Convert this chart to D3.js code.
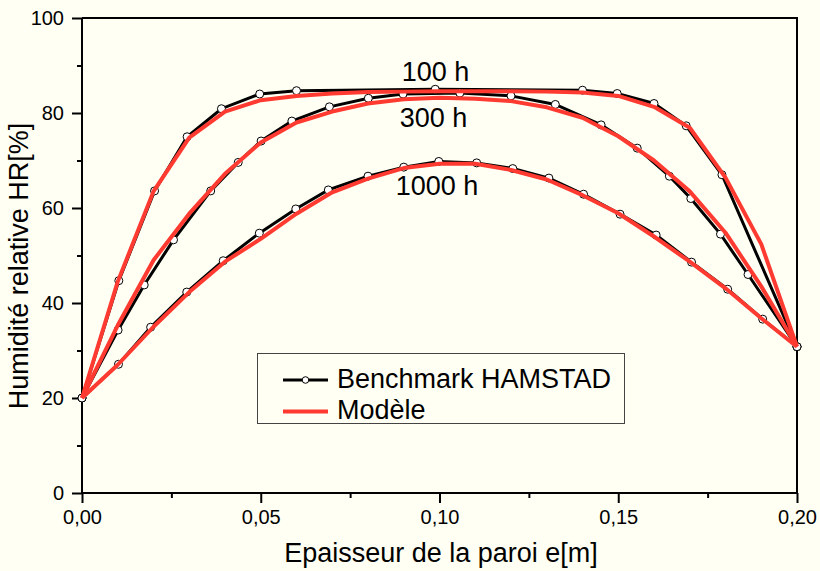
<!DOCTYPE html>
<html><head><meta charset="utf-8">
<script src="https://cdn.jsdelivr.net/npm/d3@7"></script>
<style>
html,body{margin:0;padding:0;background:#fffff3;}
svg{display:block;font-family:"Liberation Sans",Arial,Helvetica,sans-serif;}
</style></head><body>
<svg id="chart" width="820" height="571"></svg>
<script>
// Benchmark HAMSTAD (markers)
const bench100X = [0,0.0103,0.0203,0.0294,0.039,0.0497,0.06,0.0988,0.14,0.1497,0.16,0.169,0.179,0.2];
const bench100Y = [20,44.7,63.6,75.0,80.9,84.0,84.7,85.0,84.8,84.1,82.0,77.3,67.0,30.8];
const bench300X = [0,0.0101,0.0174,0.0256,0.036,0.0437,0.0501,0.0587,0.0692,0.0801,0.0898,0.1057,0.12,0.1324,0.1452,0.1553,0.1643,0.1703,0.1786,0.1863,0.2];
const bench300Y = [20,34.3,43.8,53.3,63.6,69.6,74.1,78.3,81.3,83.1,84.0,84.2,83.6,81.8,77.5,72.6,66.7,62.0,54.5,46.0,30.8];
const bench1000X = [0,0.0102,0.0192,0.0293,0.0395,0.0496,0.0598,0.0689,0.08,0.09,0.0998,0.1104,0.1205,0.1306,0.1403,0.1505,0.1606,0.1705,0.1806,0.1904,0.2];
const bench1000Y = [20,27.1,34.9,42.3,48.9,54.7,59.8,63.8,66.7,68.6,69.8,69.5,68.3,66.3,62.9,58.7,54.3,48.6,42.9,36.6,30.8];
// Modèle (red lines)
const modelX = [0,0.01,0.02,0.03,0.04,0.05,0.06,0.07,0.08,0.09,0.10,0.11,0.12,0.13,0.14,0.15,0.16,0.17,0.18,0.19,0.20];
const model100Y = [20,44.5,63.5,74.8,80.3,82.7,83.6,84.1,84.4,84.5,84.6,84.6,84.6,84.5,84.3,83.6,81.3,76.9,66.4,52.4,30.8];
const model300Y = [20,35.3,49.0,58.8,67.2,73.8,78.0,80.3,82.0,82.9,83.2,83.0,82.5,81.2,79.0,75.1,70.0,63.5,54.8,43.5,30.8];
const model1000Y = [20,27.0,35.0,42.3,48.7,53.5,58.8,63.3,66.2,68.4,69.3,69.3,68.0,66.0,62.7,58.9,54.0,48.7,43.1,36.8,30.8];
// axes
const xTicks = [0,0.05,0.10,0.15,0.20];
const xMinor = [0.025,0.075,0.125,0.175];
const yTicks = [0,20,40,60,80,100];
const yMinor = [10,30,50,70,90];
const curveLabels = [{t:"100 h",x:0.0989,y:86.74},{t:"300 h",x:0.0983,y:77.05},{t:"1000 h",x:0.0993,y:62.74}];

const svg = d3.select("#chart");
const mL=82, mR=797, mT=18, mB=493;
const x = d3.scaleLinear().domain([0,0.2]).range([mL,mR]);
const y = d3.scaleLinear().domain([0,100]).range([mB,mT]);
const fmt = d => d3.format(".2f")(d).replace(".", ",");

// frame (top/right)
svg.append("path").attr("d",`M${mL},${mT}H${mR}V${mB}`).attr("fill","none").attr("stroke","#000").attr("stroke-width",2);

// x axis
const gx = svg.append("g").attr("transform",`translate(0,${mB})`)
  .call(d3.axisBottom(x).tickValues(xTicks).tickSize(10).tickPadding(7).tickFormat(fmt));
svg.append("g").attr("transform",`translate(0,${mB})`)
  .call(d3.axisBottom(x).tickValues(xMinor).tickSize(5).tickFormat(""))
  .call(g=>g.select(".domain").remove());
// y axis
const gy = svg.append("g").attr("transform",`translate(${mL},0)`)
  .call(d3.axisLeft(y).tickValues(yTicks).tickSize(10).tickPadding(8));
svg.append("g").attr("transform",`translate(${mL},0)`)
  .call(d3.axisLeft(y).tickValues(yMinor).tickSize(5).tickFormat(""))
  .call(g=>g.select(".domain").remove());
svg.selectAll(".domain").attr("stroke","#000").attr("stroke-width",2);
svg.selectAll(".tick line").attr("stroke","#000").attr("stroke-width",2);
svg.selectAll(".tick text").attr("font-size",20).attr("fill","#000").attr("font-family",'"Liberation Sans",Arial,sans-serif');
gx.selectAll(".domain").attr("d",`M${mL},0H${mR}`);
gy.selectAll(".domain").attr("d",`M0,${mB}V${mT}`);

// axis titles
svg.append("text").attr("x",441).attr("y",562).attr("text-anchor","middle")
  .attr("font-size",27).text("Epaisseur de la paroi e[m]");
svg.append("text").attr("transform",`translate(28,266) rotate(-90)`).attr("text-anchor","middle")
  .attr("font-size",27).text("Humidité relative HR[%]");

const line = d3.line().x(d=>x(d[0])).y(d=>y(d[1]));
const benches = [[bench100X,bench100Y],[bench300X,bench300Y],[bench1000X,bench1000Y]];
const models = [model100Y,model300Y,model1000Y];

benches.forEach(([bx,by])=>{
  const pts = bx.map((v,i)=>[v,by[i]]);
  svg.append("path").datum(pts).attr("d",line).attr("fill","none").attr("stroke","#000").attr("stroke-width",3);
});
benches.forEach(([bx,by])=>{
  const pts = bx.map((v,i)=>[v,by[i]]);
  svg.append("g").selectAll("circle").data(pts).join("circle")
    .attr("cx",d=>x(d[0])).attr("cy",d=>y(d[1])).attr("r",4)
    .attr("fill","#fff").attr("stroke","#000").attr("stroke-width",1);
});
models.forEach(my=>{
  const pts = modelX.map((v,i)=>[v,my[i]]);
  svg.append("path").datum(pts).attr("d",line).attr("fill","none").attr("stroke","#ff3a30").attr("stroke-width",4).attr("stroke-linejoin","round");
});

// curve labels
curveLabels.forEach(c=>{
  svg.append("text").attr("x",x(c.x)).attr("y",y(c.y)).attr("text-anchor","middle").attr("font-size",27).text(c.t);
});

// legend
const lg = svg.append("g");
lg.append("rect").attr("x",257.5).attr("y",353.5).attr("width",367).attr("height",70).attr("fill","none").attr("stroke","#444").attr("stroke-width",1);
lg.append("line").attr("x1",283).attr("x2",328).attr("y1",380).attr("y2",380).attr("stroke","#000").attr("stroke-width",3);
lg.append("circle").attr("cx",305.5).attr("cy",380).attr("r",3.3).attr("fill","#fff").attr("stroke","#000").attr("stroke-width",1);
lg.append("text").attr("x",337).attr("y",388).attr("font-size",27).text("Benchmark HAMSTAD");
lg.append("line").attr("x1",283).attr("x2",328).attr("y1",411.5).attr("y2",411.5).attr("stroke","#ff3a30").attr("stroke-width",4);
lg.append("text").attr("x",337).attr("y",419).attr("font-size",27).text("Modèle");
</script>
</body></html>
